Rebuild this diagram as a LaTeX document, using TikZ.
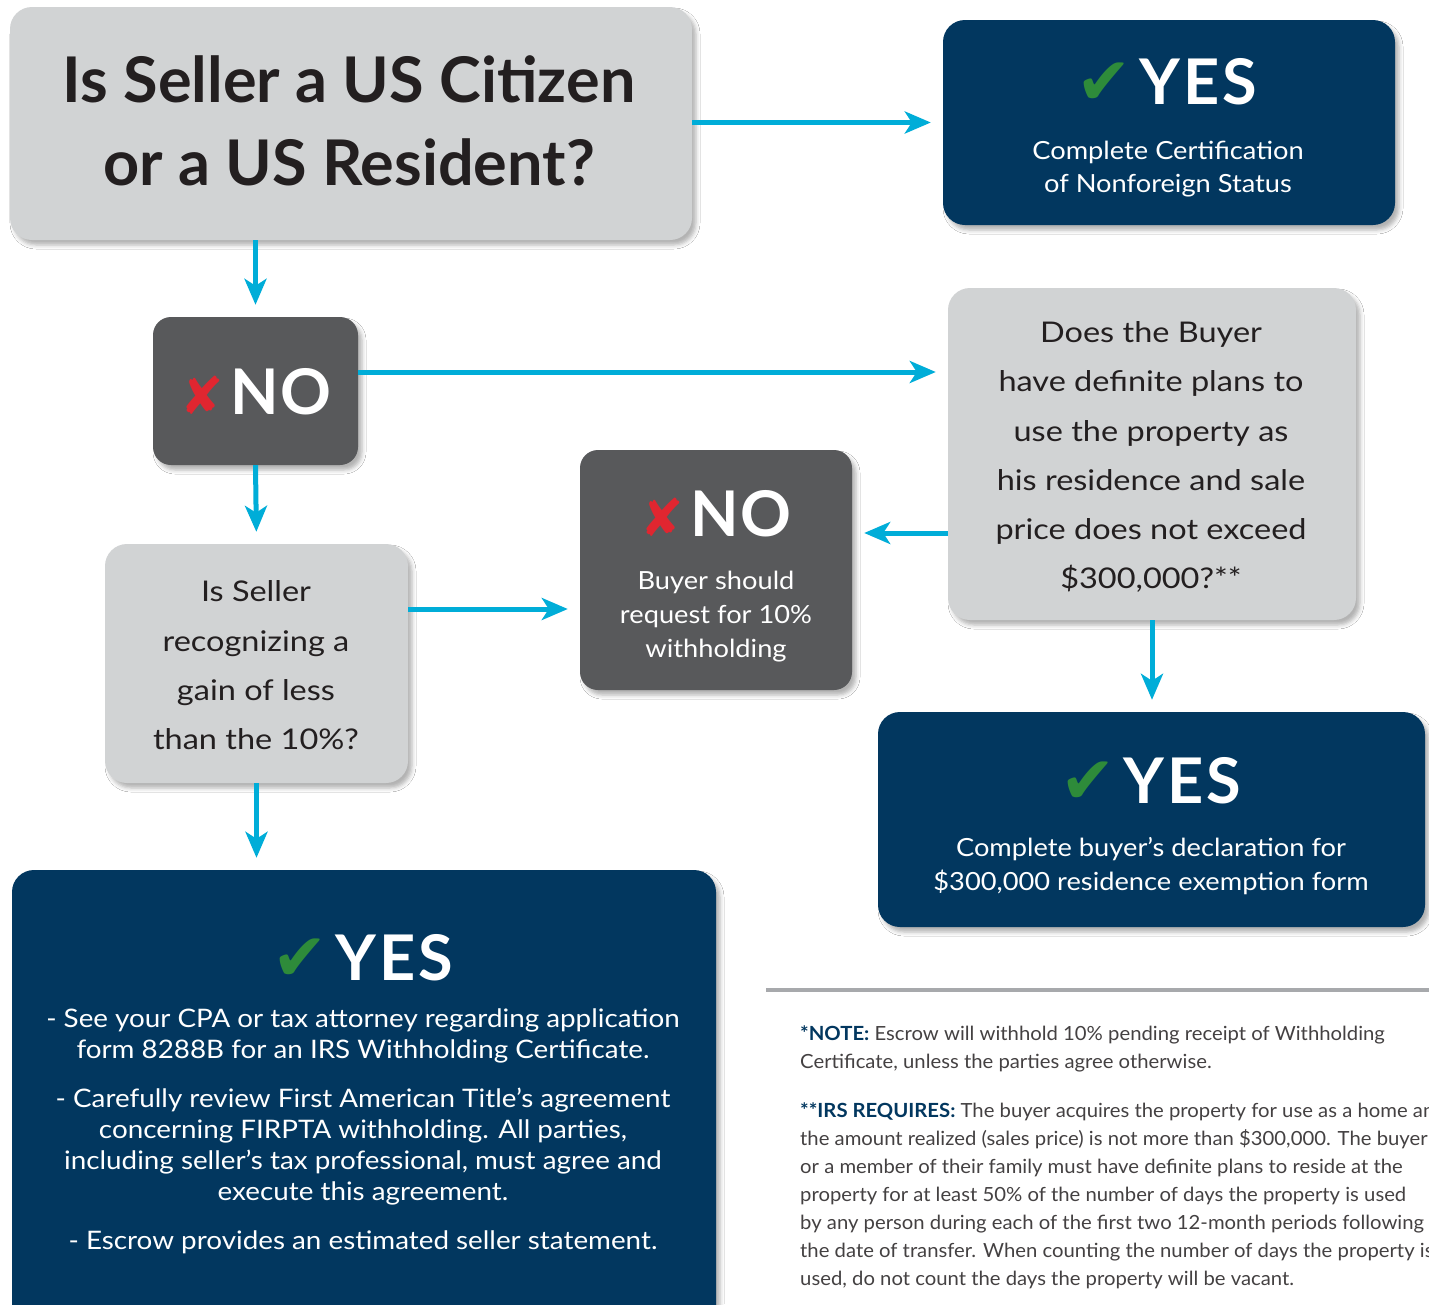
\documentclass[tikz,border=0pt]{standalone}
\usepackage{fontspec}
\setmainfont{Lato}
\newfontfamily\symf{DejaVu Sans}
\newfontfamily\grayf{Lato}[FakeStretch=1.14]
\newfontfamily\whitef{Lato}[FakeStretch=1.09]
\newfontfamily\notef{Lato}[FakeStretch=1.04]
\usetikzlibrary{arrows.meta,shadows.blur}
\definecolor{navy}{HTML}{02375F}
\definecolor{dgray}{HTML}{58595B}
\definecolor{lgray}{HTML}{D1D3D4}
\definecolor{cyanA}{HTML}{00ADD8}
\definecolor{chk}{HTML}{2E8B3A}
\definecolor{xred}{HTML}{E02630}
\definecolor{ink}{HTML}{231F20}
\definecolor{rulegray}{HTML}{A7A9AC}
\newcommand{\ckmark}{{\color{chk}\symf\fontsize{66}{66}\selectfont ✔}}
\newcommand{\xmark}{{\color{xred}\symf\fontsize{52}{52}\selectfont ✘}}
\newcommand{\YESw}{Y\kern3pt E\kern3pt S}
\newcommand{\NOw}{N\kern2pt O}
\begin{document}
\begin{tikzpicture}[x=1pt,y=-1pt,
  shbox/.style={rounded corners=22pt, inner sep=0pt, draw=none,
    blur shadow={shadow xshift=4pt, shadow yshift=-5pt, shadow blur radius=4pt, shadow opacity=30}},
  lbox/.style={shbox, fill=lgray},
  dbox/.style={shbox, fill=dgray},
  nbox/.style={shbox, fill=navy},
  arr/.style={draw=cyanA, line width=5pt, -{Stealth[length=26pt,width=22pt,inset=7pt]}, shorten >=12pt},
  qtitle/.style={anchor=base, text=ink, font=\bfseries\fontsize{63}{70}\selectfont, inner sep=0pt},
  big/.style={anchor=base, text=white, font=\bfseries\fontsize{63}{70}\selectfont, inner sep=0pt},
  wtxt/.style={anchor=base, text=white, font=\whitef\fontsize{25}{30}\selectfont, inner sep=0pt},
  gtxt/.style={anchor=base, text=ink, font=\grayf\fontsize{28.5}{34}\selectfont, inner sep=0pt},
  ytxt/.style={anchor=base, text=white, font=\whitef\fontsize{25.5}{30}\selectfont, inner sep=0pt},
  ntxt/.style={anchor=base west, text=ink!85, font=\notef\fontsize{19.5}{24}\selectfont, inner sep=0pt},
]
\useasboundingbox (0,0) rectangle (1429,1304);
\clip (0,0) rectangle (1429,1304);
\fill[white] (0,0) rectangle (1429,1304);

% boxes
\node[lbox, minimum width=682pt, minimum height=233pt] (q1) at (351,123.5) {};
\node[nbox, minimum width=452pt, minimum height=205pt] (yes1) at (1169,122.5) {};
\node[dbox, minimum width=205pt, minimum height=148pt, rounded corners=18pt] (no1) at (255.5,391) {};
\node[lbox, minimum width=408pt, minimum height=332pt] (buyer) at (1152,454) {};
\node[dbox, minimum width=272pt, minimum height=240pt, rounded corners=18pt] (no2) at (716,570) {};
\node[lbox, minimum width=303pt, minimum height=239pt] (recog) at (256.5,663.5) {};
\node[nbox, minimum width=547pt, minimum height=215pt] (yes3) at (1151.5,819.5) {};
\node[nbox, minimum width=704pt, minimum height=470pt] (yes4) at (364,1105) {};

% texts
\node[qtitle] (q1a) at (349,102) {Is Seller a US Citizen};
\node[qtitle] (q1b) at (349,185) {or a US Resident?};

\node[big] (y1h) at (1167,104) {\ckmark\kern8pt\YESw};
\node[wtxt] (y1a) at (1168,159) {Complete Certification};
\node[wtxt] (y1b) at (1168,192) {of Nonforeign Status};

\node[big] (n1h) at (256,414) {\xmark\kern6pt\NOw};

\node[gtxt] (b1) at (1151,342) {Does the Buyer};
\node[gtxt] (b2) at (1151,391) {have definite plans to};
\node[gtxt] (b3) at (1151,441) {use the property as};
\node[gtxt] (b4) at (1151,490) {his residence and sale};
\node[gtxt] (b5) at (1151,539) {price does not exceed};
\node[gtxt] (b6) at (1151,588) {\$300,000?**};

\node[big] (n2h) at (716,536) {\xmark\kern6pt\NOw};
\node[wtxt] (n2a) at (716,589) {Buyer should};
\node[wtxt] (n2b) at (716,623) {request for 10\%};
\node[wtxt] (n2c) at (716,657) {withholding};

\node[gtxt] (r1) at (256,601) {Is Seller};
\node[gtxt] (r2) at (256,651) {recognizing a};
\node[gtxt] (r3) at (256,700) {gain of less};
\node[gtxt] (r4) at (256,749) {than the 10\%?};

\node[big] (y3h) at (1151,803) {\ckmark\kern8pt\YESw};
\node[wtxt] (y3a) at (1151,856) {Complete buyer’s declaration for};
\node[wtxt] (y3b) at (1151,890) {\$300,000 residence exemption form};

\node[big] (y4h) at (363,980) {\ckmark\kern8pt\YESw};
\node[ytxt] (y4a) at (363,1027) {- See your CPA or tax attorney regarding application};
\node[ytxt] (y4b) at (363,1058) {form 8288B for an IRS Withholding Certificate.};
\node[ytxt] (y4c) at (363,1107) {- Carefully review First American Title’s agreement};
\node[ytxt] (y4d) at (363,1138) {concerning FIRPTA withholding. All parties,};
\node[ytxt] (y4e) at (363,1169) {including seller’s tax professional, must agree and};
\node[ytxt] (y4f) at (363,1200) {execute this agreement.};
\node[ytxt] (y4g) at (363,1249) {- Escrow provides an estimated seller statement.};

% rule and notes
\draw[rulegray, line width=4pt] (766,990) -- (1429,990);
\node[ntxt] (t1) at (800,1040) {{\bfseries\color{navy}*NOTE:} Escrow will withhold 10\% pending receipt of Withholding};
\node[ntxt] (t2) at (800,1068) {Certificate, unless the parties agree otherwise.};
\node[ntxt] (t3) at (800,1117) {{\bfseries\color{navy}**IRS REQUIRES:} The buyer acquires the property for use as a home and};
\node[ntxt] (t4) at (800,1145) {the amount realized (sales price) is not more than \$300,000. The buyer};
\node[ntxt] (t5) at (800,1173) {or a member of their family must have definite plans to reside at the};
\node[ntxt] (t6) at (800,1201) {property for at least 50\% of the number of days the property is used};
\node[ntxt] (t7) at (800,1229) {by any person during each of the first two 12-month periods following};
\node[ntxt] (t8) at (800,1257) {the date of transfer. When counting the number of days the property is};
\node[ntxt] (t9) at (800,1285) {used, do not count the days the property will be vacant.};

% arrows
\draw[arr] (q1.east |- yes1.west) -- (yes1.west);
\draw[arr] ([yshift=19pt]no1.east) coordinate (a2s) -- (a2s -| buyer.west);
\draw[arr] ([yshift=-79pt]buyer.west) coordinate (a3s) -- (a3s -| no2.east);
\draw[arr] (no1.north |- q1.south) -- (no1.north);
\draw[arr] (no1.south) -- (recog.north);
\draw[arr] ([yshift=54.5pt]recog.east) coordinate (a6s) -- (a6s -| no2.west);
\draw[arr] (buyer.south) -- (buyer.south |- yes3.north);
\draw[arr] (recog.south) -- (recog.south |- yes4.north);
\end{tikzpicture}
\end{document}
